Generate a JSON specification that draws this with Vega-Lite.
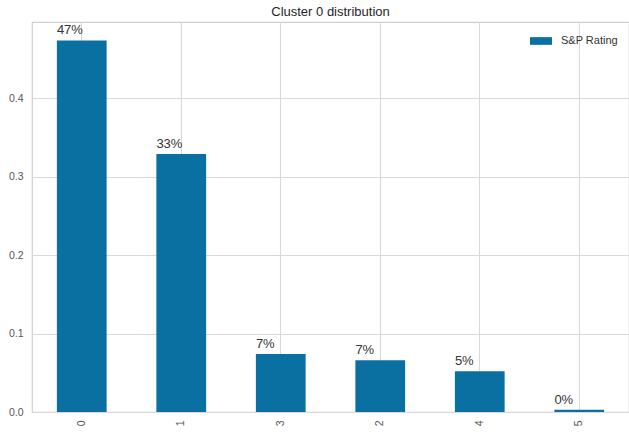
{
  "$schema": "https://vega.github.io/schema/vega-lite/v6.json",
  "autosize": {"type": "none"},
  "width": 597,
  "height": 390,
  "padding": {"left": 32, "top": 22, "right": 0, "bottom": 20},
  "background": "white",
  "title": {"text": "Cluster 0 distribution", "fontSize": 13, "fontWeight": "normal", "font": "Liberation Sans", "color": "#262626", "offset": 3},
  "config": {
    "view": {"stroke": "#d0d0d0", "strokeWidth": 1.2},
    "font": "Liberation Sans"
  },
  "data": {
    "values": [
      {"cluster": "0", "share": 0.474, "series": "S&P Rating"},
      {"cluster": "1", "share": 0.329, "series": "S&P Rating"},
      {"cluster": "3", "share": 0.074, "series": "S&P Rating"},
      {"cluster": "2", "share": 0.066, "series": "S&P Rating"},
      {"cluster": "4", "share": 0.052, "series": "S&P Rating"},
      {"cluster": "5", "share": 0.003, "series": "S&P Rating"}
    ]
  },
  "encoding": {
    "x": {
      "field": "cluster", "type": "nominal", "sort": null,
      "scale": {"paddingInner": 0.5, "paddingOuter": 0.25},
      "axis": {"title": null, "labelAngle": -90, "labelFontSize": 10.5, "labelColor": "#555555", "ticks": false, "domain": false, "labelPadding": 8, "grid": true, "gridColor": "#d9d9d9", "gridWidth": 1.1, "bandPosition": 0.5}
    },
    "y": {
      "field": "share", "type": "quantitative",
      "scale": {"domain": [0, 0.4975], "nice": false},
      "axis": {"title": null, "values": [0, 0.1, 0.2, 0.3, 0.4], "format": ".1f", "labelFontSize": 10.5, "labelColor": "#555555", "ticks": false, "domain": false, "labelPadding": 9, "gridColor": "#d9d9d9", "gridWidth": 1.1}
    }
  },
  "layer": [
    {
      "mark": {"type": "bar"},
      "encoding": {
        "color": {
          "field": "series", "type": "nominal",
          "scale": {"range": ["#0a70a2"]},
          "legend": {"title": null, "orient": "none", "legendX": 498, "legendY": 8, "symbolType": "M-1,-0.35H1V0.35H-1Z", "symbolSize": 484, "symbolStrokeWidth": 0, "labelFontSize": 11, "labelColor": "#333333", "labelOffset": 9}
        }
      }
    },
    {
      "mark": {"type": "text", "align": "left", "baseline": "alphabetic", "dy": -6, "fontSize": 13, "color": "#333333"},
      "encoding": {
        "x": {"field": "cluster", "type": "nominal", "sort": null, "bandPosition": 0},
        "text": {"field": "share", "type": "quantitative", "format": ".0%"}
      }
    }
  ]
}
